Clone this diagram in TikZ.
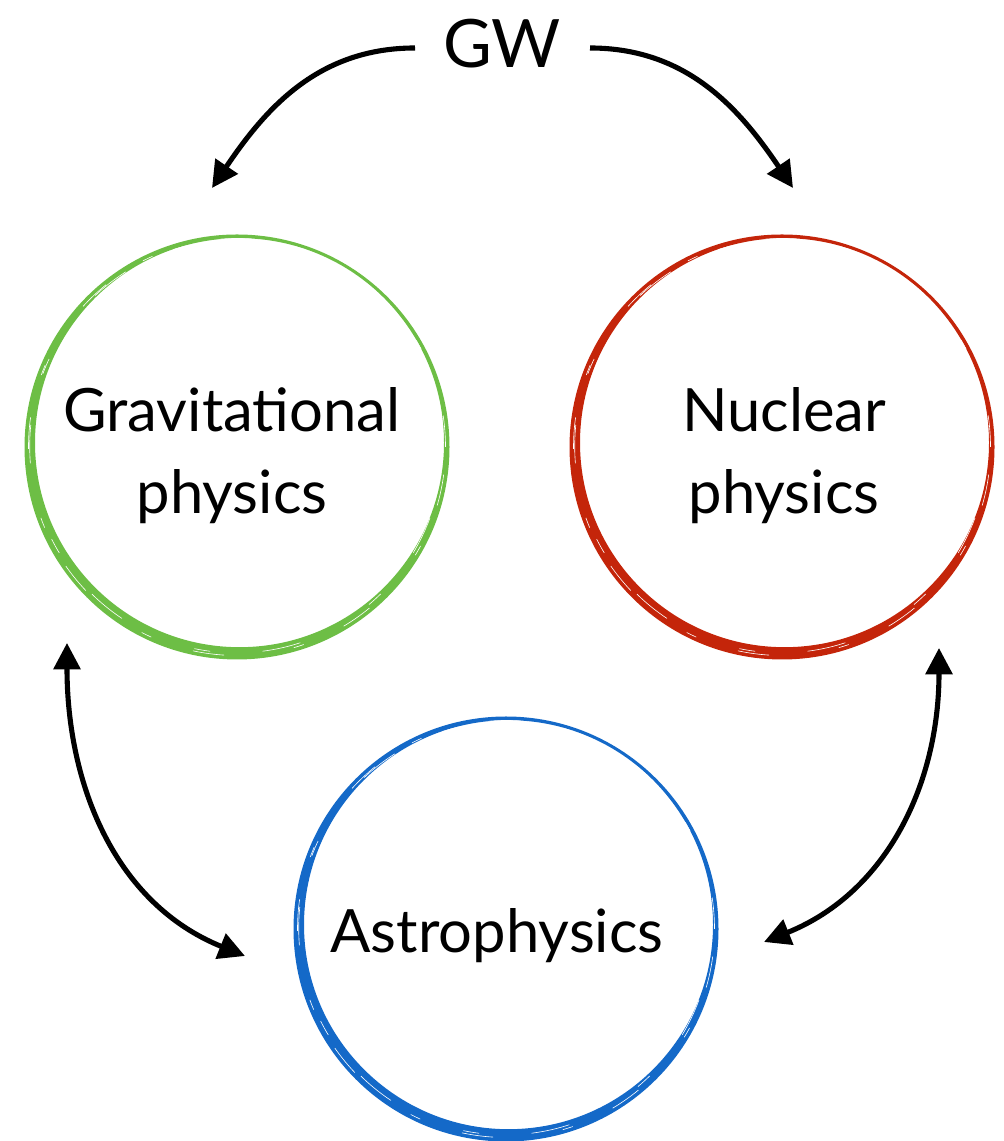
\documentclass[tikz,border=0pt]{standalone}
\usepackage{fontspec}
\setmainfont{Lato}
\usetikzlibrary{arrows.meta,calc}

\definecolor{gravgreen}{RGB}{109,190,69}
\definecolor{nucred}{RGB}{196,37,10}
\definecolor{astroblue}{RGB}{20,105,200}

% brush-like ring: thick at lower left, thin at upper right
\newcommand{\brushring}[2]{%
  \fill[#2, even odd rule] (#1) circle[radius=212.5] ($(#1)+(2.5,4.3)$) circle[radius=204.5];
  \draw[white, line width=0.35pt, dash pattern=on 18pt off 40pt on 6pt off 25pt] (#1) circle[radius=208.5];
  \draw[white, line width=0.35pt, dash pattern=on 9pt off 30pt on 22pt off 45pt] ($(#1)+(-0.8,0.6)$) circle[radius=206.5];
}

\begin{document}
\begin{tikzpicture}[
  x=0.02cm, y=0.02cm,
  topic/.style={circle, minimum size=8.48cm, inner sep=0pt},
  lbl/.style={align=center, inner sep=0pt, font=\fontsize{34pt}{46.7pt}\selectfont},
  ar/.style={line width=2.9pt, -{Triangle[length=15pt, width=15pt]}},
  dar/.style={line width=2.9pt, {Triangle[length=15pt, width=15pt]}-{Triangle[length=15pt, width=15pt]}},
]
\useasboundingbox (0,0) rectangle (1003,1141);

%% ---------- the three fields ----------
\node[topic] (grav)  at (237,694) {};
\node[topic] (nuc)   at (782,694) {};
\node[topic] (astro) at (506,212) {};
\brushring{grav}{gravgreen}
\brushring{nuc}{nucred}
\brushring{astro}{astroblue}

\node[lbl] (gravlbl) at ($(grav)+(-5,-9)$) {Gravitational\\physics};
\node[lbl] (nuclbl)  at ($(nuc)+(2,-9)$) {Nuclear\\physics};
\node[lbl, anchor=base] (astrolbl) at ($(astro)+(-9,-24)$) {Astrophysics};

%% ---------- GW and the links ----------
\node[anchor=base, inner sep=0pt, font=\fontsize{38pt}{40pt}\selectfont] (gw) at (502,1073) {GW};
\coordinate (gwl) at ($(gw.base)+(-87,20)$);
\coordinate (gwr) at ($(gw.base)+(88,20)$);
\coordinate (gravtop) at ($(grav)+(-25,259)$);
\coordinate (nuctop)  at ($(nuc)+(11,259)$);
\coordinate (gravbot) at ($(grav)+(-170,-196)$);
\coordinate (nucbot)  at ($(nuc)+(157,-201)$);
\coordinate (astrol)  at ($(astro)+(-261,-27)$);
\coordinate (astror)  at ($(astro)+(258,-13)$);

\draw[ar] (gwl) to[out=180, in=56] (gravtop);
\draw[ar] (gwr) to[out=0, in=124] (nuctop);
\draw[dar] (gravbot) to[out=-90, in=158] (astrol);
\draw[dar] (nucbot) to[out=-90, in=22] (astror);
\end{tikzpicture}
\end{document}
